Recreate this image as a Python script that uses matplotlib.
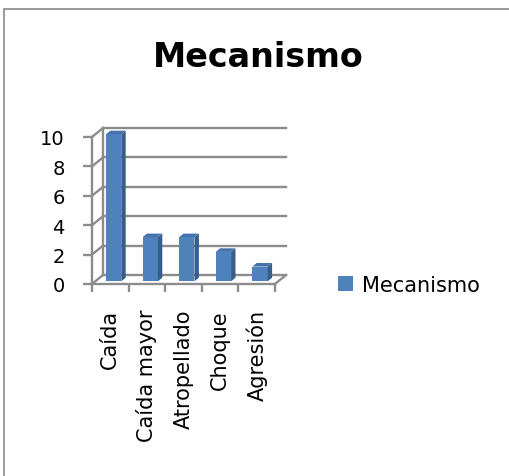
import matplotlib
matplotlib.use("Agg")
import matplotlib.pyplot as plt
from matplotlib.patches import Polygon, Rectangle

plt.rcParams['font.family'] = ['DejaVu Sans']

categorias = ['Caída', 'Caída mayor', 'Atropellado', 'Choque', 'Agresión']
valores = [10, 3, 3, 2, 1]
serie = 'Mecanismo'
yticks = [0, 2, 4, 6, 8, 10]

FRONT = '#4f81bd'
SIDE = '#385d8a'
TOP = '#4573ad'
GRID = '#8c8c8c'

W, H = 510, 477
fig = plt.figure(figsize=(W / 100, H / 100), dpi=100)

# outer chart frame (runs off the right / bottom edge)
fig.add_artist(Rectangle((4 / W, -0.5), 1.5, 0.5 + 1 - 10 / H, fill=False,
                         edgecolor='#8a8a8a', lw=1.2, transform=fig.transFigure))

ax = fig.add_axes([92 / W, (H - 285) / H, 183 / W, 147 / H])
n = len(categorias)
ax.set_xlim(0, n)
ax.set_ylim(0, 10)
ax.set_facecolor('none')

# depth of the pseudo 3d box, in data units (11 px right, 9 px up)
DX = 11 * n / 183
DY = 9 * 10 / 147

lw = 1.7
# back wall gridlines and the side wall diagonals
for v in yticks:
    ax.plot([DX, n + DX], [v + DY, v + DY], color=GRID, lw=lw, clip_on=False, zorder=1)
    ax.plot([0, DX], [v, v + DY], color=GRID, lw=lw, clip_on=False, zorder=1)
ax.plot([DX, DX], [DY, 10 + DY], color=GRID, lw=lw, clip_on=False, zorder=1)
ax.plot([n, n + DX], [0, DY], color=GRID, lw=lw, clip_on=False, zorder=1)

# spines = front edges of the box
for s in ['top', 'right']:
    ax.spines[s].set_visible(False)
for s in ['left', 'bottom']:
    ax.spines[s].set_color(GRID)
    ax.spines[s].set_linewidth(lw)

ax.set_yticks(yticks)
ax.tick_params(axis='y', length=6.5, width=lw, color=GRID, pad=13, labelsize=14)
ax.set_xticks(range(n + 1))
ax.set_xticklabels([])
ax.tick_params(axis='x', which='major', length=6, width=lw, color=GRID)
ax.set_xticks([i + 0.5 for i in range(n)], categorias, minor=True)
ax.tick_params(axis='x', which='minor', length=0, pad=18, labelsize=15,
               labelrotation=90)

# columns: front face via bar(), side and top faces as polygons
w = 0.42
d0, d1 = 0.3, 0.7
xs = [i + 0.5 - w / 2 + d0 * DX for i in range(n)]
ax.bar(xs, valores, width=w, bottom=d0 * DY, align='edge', color=FRONT,
       label=serie, clip_on=False, zorder=3)
dd = (d1 - d0)
for x, v in zip(xs, valores):
    y0 = d0 * DY
    side = [(x + w, y0), (x + w + dd * DX, y0 + dd * DY),
            (x + w + dd * DX, y0 + v + dd * DY), (x + w, y0 + v)]
    top = [(x, y0 + v), (x + w, y0 + v), (x + w + dd * DX, y0 + v + dd * DY),
           (x + dd * DX, y0 + v + dd * DY)]
    ax.add_patch(Polygon(side, closed=True, facecolor=SIDE, edgecolor='none',
                         clip_on=False, zorder=3))
    ax.add_patch(Polygon(top, closed=True, facecolor=TOP, edgecolor='none',
                         clip_on=False, zorder=3))

fig.text(258 / W, 1 - 67 / H, 'Mecanismo', ha='center', va='baseline',
         fontsize=24, fontweight='bold')

fig.legend(loc='center left', bbox_to_anchor=(338 / W, 1 - 286 / H), frameon=False,
           fontsize=15, handlelength=0.72, handleheight=0.72, handletextpad=0.43,
           borderpad=0, borderaxespad=0)

fig.savefig('out.png', dpi=100)
